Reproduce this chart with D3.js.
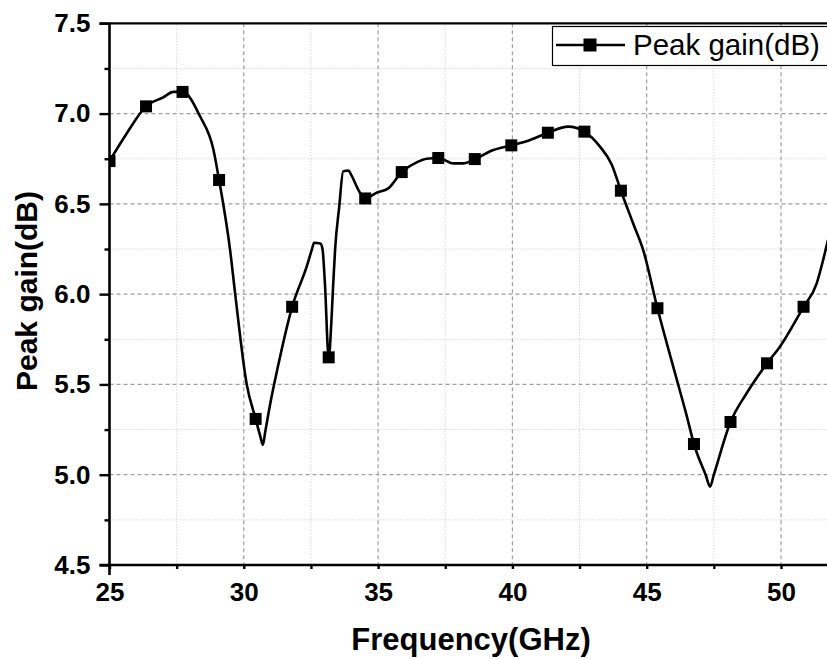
<!DOCTYPE html>
<html><head><meta charset="utf-8">
<script src="https://cdn.jsdelivr.net/npm/d3@7"></script>
<style>
html,body{margin:0;padding:0;background:#fff;}
svg{display:block;font-family:"Liberation Sans",Arial,sans-serif;}
</style></head>
<body>
<svg id="chart" width="827" height="659"></svg>
<script>
// Sampled curve (frequency in GHz, peak gain in dB)
const curveFreq = [25.0,25.64,26.36,27.0,27.38,27.72,28.37,28.87,29.08,29.49,29.68,30.11,30.44,30.62,30.71,30.8,31.0,31.25,31.8,32.34,32.53,32.62,32.85,32.93,33.02,33.16,33.27,33.33,33.4,33.55,33.7,33.9,34.0,34.33,34.52,34.95,35.38,35.88,36.44,36.81,37.24,37.8,38.17,38.6,39.29,39.96,40.66,41.32,42.08,42.68,43.26,43.7,44.04,44.5,44.87,45.4,45.99,46.49,46.76,47.2,47.36,47.5,48.12,48.72,49.48,49.96,50.84,51.33,51.57,51.75];
const curveGain = [6.737,6.89,7.04,7.09,7.12,7.12,6.985,6.80,6.632,6.244,6.0,5.5,5.309,5.21,5.165,5.24,5.406,5.585,5.93,6.152,6.245,6.285,6.28,6.25,6.06,5.65,5.875,6.06,6.25,6.48,6.68,6.685,6.66,6.56,6.53,6.562,6.586,6.676,6.73,6.75,6.754,6.724,6.724,6.748,6.798,6.824,6.854,6.894,6.928,6.90,6.817,6.717,6.573,6.39,6.244,5.922,5.597,5.326,5.17,4.997,4.934,5.0,5.292,5.451,5.617,5.709,5.93,6.06,6.19,6.30];
// Marker points
const markerFreq = [25,26.36,27.72,29.08,30.44,31.8,33.16,34.52,35.88,37.24,38.6,39.96,41.32,42.68,44.04,45.4,46.76,48.12,49.48,50.84];
const markerGain = [6.737,7.04,7.12,6.632,5.309,5.93,5.65,6.53,6.676,6.754,6.748,6.824,6.894,6.90,6.573,5.922,5.17,5.292,5.617,5.93];
// Axes ticks
const xTicks = [25,30,35,40,45,50];
const xMinor = [27.5,32.5,37.5,42.5,47.5,52.5];
const yTicks = [4.5,5.0,5.5,6.0,6.5,7.0,7.5];
const yMinor = [4.75,5.25,5.75,6.25,6.75,7.25];
const seriesName = "Peak gain(dB)";
const xTitle = "Frequency(GHz)";
const yTitle = "Peak gain(dB)";

const svg = d3.select("#chart");
const L = 109.5, T = 23.3, B = 565;
const x = d3.scaleLinear().domain([25,52]).range([L, L + 27*26.86]);
const y = d3.scaleLinear().domain([4.5,7.5]).range([B, T]);
const R = 840;

svg.append("defs").append("clipPath").attr("id","clip")
  .append("rect").attr("x",L).attr("y",T-10).attr("width",827-L).attr("height",B-T+20);

const grid = svg.append("g");
// minor grid
grid.selectAll(".vmin").data(xMinor).join("line")
  .attr("x1",d=>x(d)).attr("x2",d=>x(d)).attr("y1",T).attr("y2",B)
  .attr("stroke","#c8c8c8").attr("stroke-width",1).attr("stroke-dasharray","1,2");
grid.selectAll(".hmin").data(yMinor).join("line")
  .attr("x1",L).attr("x2",R).attr("y1",d=>y(d)).attr("y2",d=>y(d))
  .attr("stroke","#c8c8c8").attr("stroke-width",1).attr("stroke-dasharray","1,2");
// major grid
grid.selectAll(".vmaj").data(xTicks.filter(d=>d>25)).join("line")
  .attr("x1",d=>x(d)).attr("x2",d=>x(d)).attr("y1",T).attr("y2",B)
  .attr("stroke","#a0a0a0").attr("stroke-width",1.2).attr("stroke-dasharray","4,3");
grid.selectAll(".hmaj").data(yTicks.filter(d=>d>4.5 && d<7.5)).join("line")
  .attr("x1",L).attr("x2",R).attr("y1",d=>y(d)).attr("y2",d=>y(d))
  .attr("stroke","#a0a0a0").attr("stroke-width",1.2).attr("stroke-dasharray","4,3");

// curve
const pts = curveFreq.map((f,i)=>[f,curveGain[i]]);
const line = d3.line().x(d=>x(d[0])).y(d=>y(d[1])).curve(d3.curveMonotoneX);
const plot = svg.append("g").attr("clip-path","url(#clip)");
plot.append("path").datum(pts).attr("d",line)
  .attr("fill","none").attr("stroke","#000").attr("stroke-width",2.6).attr("stroke-linejoin","round");
const ms = 12;
plot.selectAll(".mk").data(markerFreq.map((f,i)=>[f,markerGain[i]])).join("rect")
  .attr("x",d=>x(d[0])-ms/2).attr("y",d=>y(d[1])-ms/2).attr("width",ms).attr("height",ms).attr("fill","#000");

// axes
const xAxis = svg.append("g").attr("transform",`translate(0,${B})`)
  .call(d3.axisBottom(x).tickValues(xTicks).tickFormat(d3.format("d")).tickSize(4).tickPadding(14));
const xAxisMinor = svg.append("g").attr("transform",`translate(0,${B})`)
  .call(d3.axisBottom(x).tickValues(xMinor.filter(d=>d<52)).tickFormat("").tickSize(4));
const yAxis = svg.append("g").attr("transform",`translate(${L},0)`)
  .call(d3.axisLeft(y).tickValues(yTicks).tickFormat(d3.format(".1f")).tickSize(10).tickPadding(9));
const yAxisMinor = svg.append("g").attr("transform",`translate(${L},0)`)
  .call(d3.axisLeft(y).tickValues(yMinor).tickFormat("").tickSize(5));
[xAxis,xAxisMinor,yAxis,yAxisMinor].forEach(g=>{
  g.select(".domain").remove();
  g.selectAll(".tick line").attr("stroke","#000").attr("stroke-width",2.4);
  g.selectAll("text").attr("fill","#000").attr("font-size",26).attr("font-weight","bold")
   .attr("font-family","'Liberation Sans',Arial,sans-serif");
});
// axis lines & top frame
svg.append("line").attr("x1",L-10).attr("x2",R).attr("y1",B).attr("y2",B).attr("stroke","#000").attr("stroke-width",2.6);
svg.append("line").attr("x1",L).attr("x2",L).attr("y1",T).attr("y2",B+10).attr("stroke","#000").attr("stroke-width",2.6);
svg.append("line").attr("x1",L-10).attr("x2",R).attr("y1",T).attr("y2",T).attr("stroke","#000").attr("stroke-width",2.2);

// axis titles
svg.append("text").attr("x",471).attr("y",650).attr("text-anchor","middle")
  .attr("font-size",31).attr("font-weight","bold").attr("fill","#000").text(xTitle);
svg.append("text").attr("transform","translate(37,291) rotate(-90)").attr("text-anchor","middle")
  .attr("font-size",30).attr("font-weight","bold").attr("fill","#000").text(yTitle);

// legend
const lg = svg.append("g");
lg.append("rect").attr("x",552.5).attr("y",26.5).attr("width",300).attr("height",39)
  .attr("fill","#fff").attr("stroke","#000").attr("stroke-width",1.2);
lg.append("line").attr("x1",556).attr("x2",625).attr("y1",45).attr("y2",45).attr("stroke","#000").attr("stroke-width",2.6);
lg.append("rect").attr("x",590-6.5).attr("y",45-6.5).attr("width",13).attr("height",13).attr("fill","#000");
lg.append("text").attr("x",633).attr("y",55).attr("font-size",29.5).attr("fill","#000").text(seriesName);
</script>
</body></html>
